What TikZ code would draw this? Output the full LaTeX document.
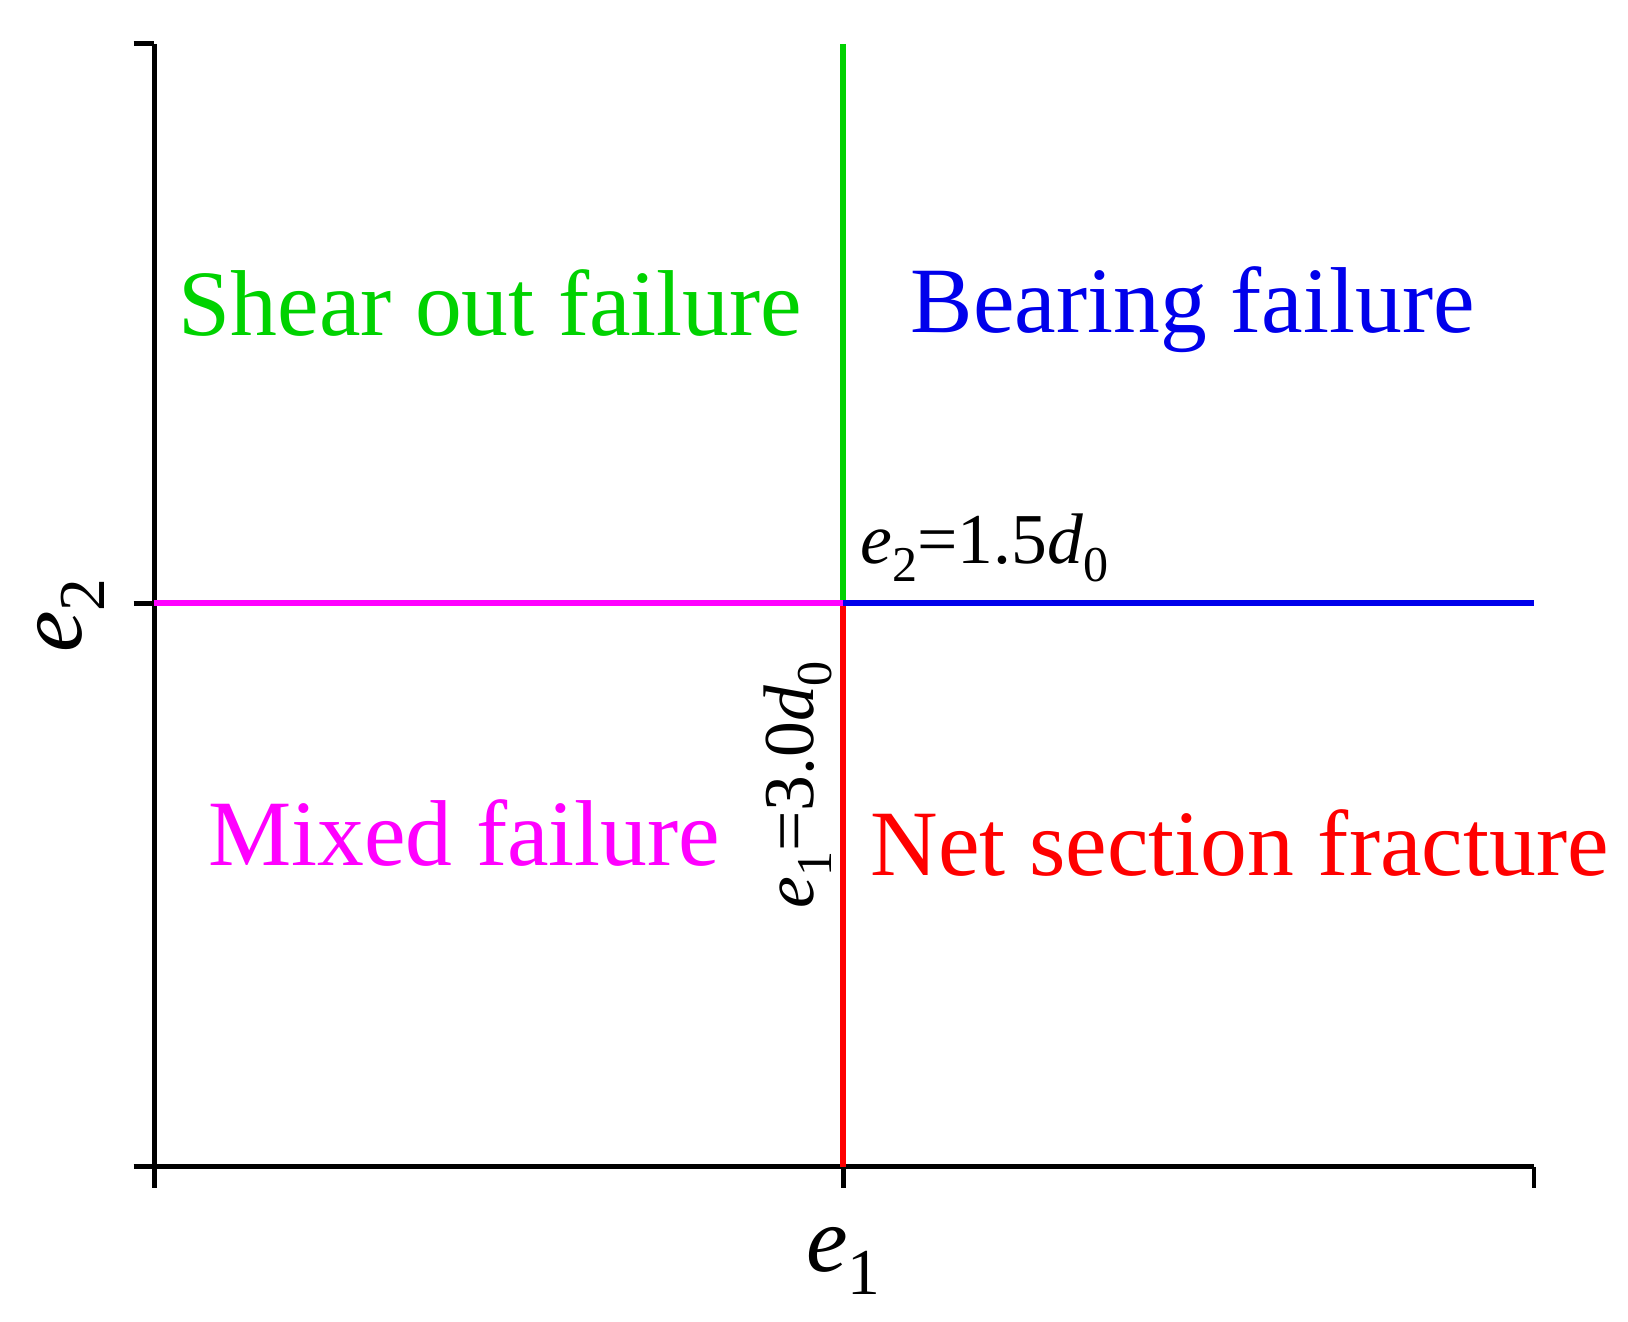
\documentclass[tikz,border=0pt]{standalone}
\usepackage{fontspec}
\setmainfont{Liberation Serif}
\definecolor{cgreen}{RGB}{0,210,0}
\definecolor{cblue}{RGB}{0,0,235}
\definecolor{cmag}{RGB}{255,0,255}
\definecolor{cred}{RGB}{255,0,0}
\newcommand{\sbs}[1]{\raisebox{-0.25em}{\fontsize{0.7em}{0.7em}\selectfont #1}}
\begin{document}
\begin{tikzpicture}[x=0.01cm,y=-0.01cm,
  ax/.style={line width=1.3pt,black},
  reg/.style={line width=1.5pt},
  big/.style={font=\fontsize{25.5}{28}\selectfont,inner sep=0pt},
  mid/.style={font=\fontsize{19.5}{22}\selectfont,inner sep=0pt}]
\useasboundingbox (0,0) rectangle (1560,1266);
\coordinate (o) at (148,1118);
\coordinate (yt) at (148,42);
\coordinate (xr) at (1470,1118);
\coordinate (c) at (808,578);
\coordinate (ctop) at (808,42);
\coordinate (cbot) at (808,1118);
\coordinate (cl) at (148,578);
\coordinate (cr) at (1470,578);
\draw[ax] (yt) -- (o) -- (xr);
\draw[ax] (128,42) -- (yt);
\draw[ax] (128,578) -- (cl);
\draw[ax] (128,1118) -- (o);
\draw[ax] (o) -- (148,1138);
\draw[ax] (cbot) -- (808,1138);
\draw[ax] (xr) -- (1470,1138);
\draw[reg,cgreen] (ctop) -- (c);
\draw[reg,cred] (c) -- (cbot);
\draw[reg,cmag] (cl) -- (c);
\draw[reg,cblue] (c) -- (cr);
\node[big,cgreen] (s) at (470,290) {Shear out failure};
\node[big,cblue] (b) at (1143,297) {Bearing failure};
\node[big,cmag] (m) at (445,798) {Mixed failure};
\node[big,cred] (n) at (1188,808) {Net section fracture};
\node[mid,anchor=base west] (l2) at (824,540) {\textit{e}\sbs{2}=1.5\textit{d}\sbs{0}};
\node[mid,rotate=90] (l1) at (765,752) {\textit{e}\sbs{1}=3.0\textit{d}\sbs{0}};
\node[big] (xl) at (808,1208) {\textit{e}\sbs{1}};
\node[big,rotate=90] (yl) at (68,590) {\textit{e}\sbs{2}};
\end{tikzpicture}
\end{document}
